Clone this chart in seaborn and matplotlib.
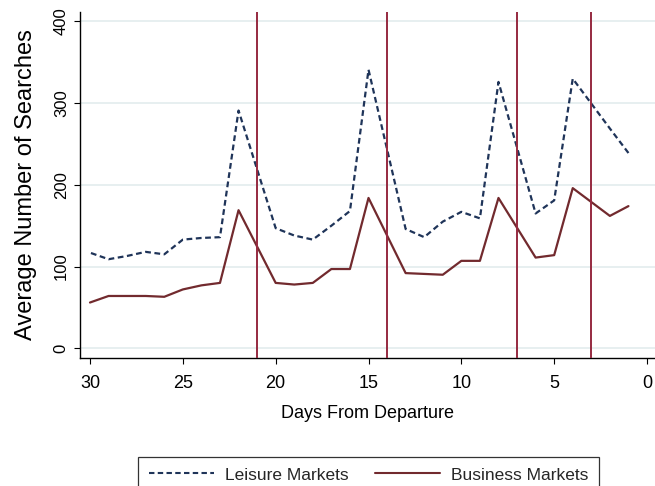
import matplotlib
matplotlib.use("Agg")
import matplotlib.pyplot as plt
from matplotlib.lines import Line2D
import pandas as pd
import seaborn as sns

# Average daily searches by days before departure
days = [30, 29, 28, 27, 26, 25, 24, 23, 22, 20, 19, 18, 17, 16, 15,
        13, 12, 11, 10, 9, 8, 6, 5, 4, 2, 1]
leisure = [117, 109, 113, 118, 115, 133, 135, 136, 291, 147, 138, 133, 150, 168, 341,
           146, 136, 155, 167, 159, 326, 165, 181, 330, 269, 239]
business = [56, 64, 64, 64, 63, 72, 77, 80, 169, 80, 78, 80, 97, 97, 184,
            92, 91, 90, 107, 107, 184, 111, 114, 196, 162, 174]
event_days = [21, 14, 7, 3]
x_ticks = [30, 25, 20, 15, 10, 5, 0]
y_ticks = [0, 100, 200, 300, 400]

leisure_name = "Leisure Markets"
business_name = "Business Markets"

df = pd.DataFrame({
    "day": days * 2,
    "searches": leisure + business,
    "market": [leisure_name] * len(days) + [business_name] * len(days),
})

sns.set_theme(style="white")
plt.rcParams["font.family"] = ["Liberation Sans", "DejaVu Sans"]

navy = "#1f3459"
maroon = "#722a2e"
vline_color = "#962a40"
grid_color = "#e5eeef"

fig = plt.figure(figsize=(6.55, 4.86), dpi=100)
ax = fig.add_axes([0.1221, 0.2634, 0.8779, 0.7119])

ax.set_axisbelow(True)
for yv in y_ticks:
    ax.axhline(yv, color=grid_color, lw=1.3, zorder=0)

sns.lineplot(data=df, x="day", y="searches", hue="market", style="market",
             palette={leisure_name: navy, business_name: maroon},
             dashes={leisure_name: (2.6, 1.6), business_name: ""},
             linewidth=1.6, legend=False, ax=ax, zorder=3)

for d in event_days:
    ax.axvline(d, color=vline_color, lw=1.4, zorder=4)

ax.set_xlim(30.54, -0.43)
ax.set_ylim(-11.9, 411.6)
ax.set_xticks(x_ticks)
ax.set_yticks(y_ticks)
ax.set_yticklabels([str(v) for v in y_ticks], rotation=90, va="center")

for side in ["top", "right"]:
    ax.spines[side].set_visible(False)
for side in ["left", "bottom"]:
    ax.spines[side].set_color("black")
    ax.spines[side].set_linewidth(1.0)

ax.tick_params(axis="both", which="major", direction="out", length=4.5, width=0.8,
               color="black", labelcolor="black", left=True, bottom=True)
ax.tick_params(axis="x", labelsize=13, pad=8)
ax.tick_params(axis="y", labelsize=12, pad=3.5)

ax.set_xlabel("Days From Departure", fontsize=13, labelpad=9, color="black")
ax.set_ylabel("Average Number of Searches", fontsize=17, labelpad=12, color="black")

handles = [
    Line2D([], [], color=navy, lw=1.5, dashes=(2.6, 1.6)),
    Line2D([], [], color=maroon, lw=1.5),
]
leg = fig.legend(handles, [leisure_name, business_name], loc="upper center",
                 bbox_to_anchor=(0.5626, 0.0597), ncol=2, frameon=True,
                 fancybox=False, fontsize=12.5, handlelength=3.75,
                 columnspacing=1.55, borderpad=0.6, handletextpad=0.63,
                 borderaxespad=0)
leg.get_frame().set_edgecolor("black")
leg.get_frame().set_linewidth(0.9)

fig.savefig("out.png", dpi=100)
